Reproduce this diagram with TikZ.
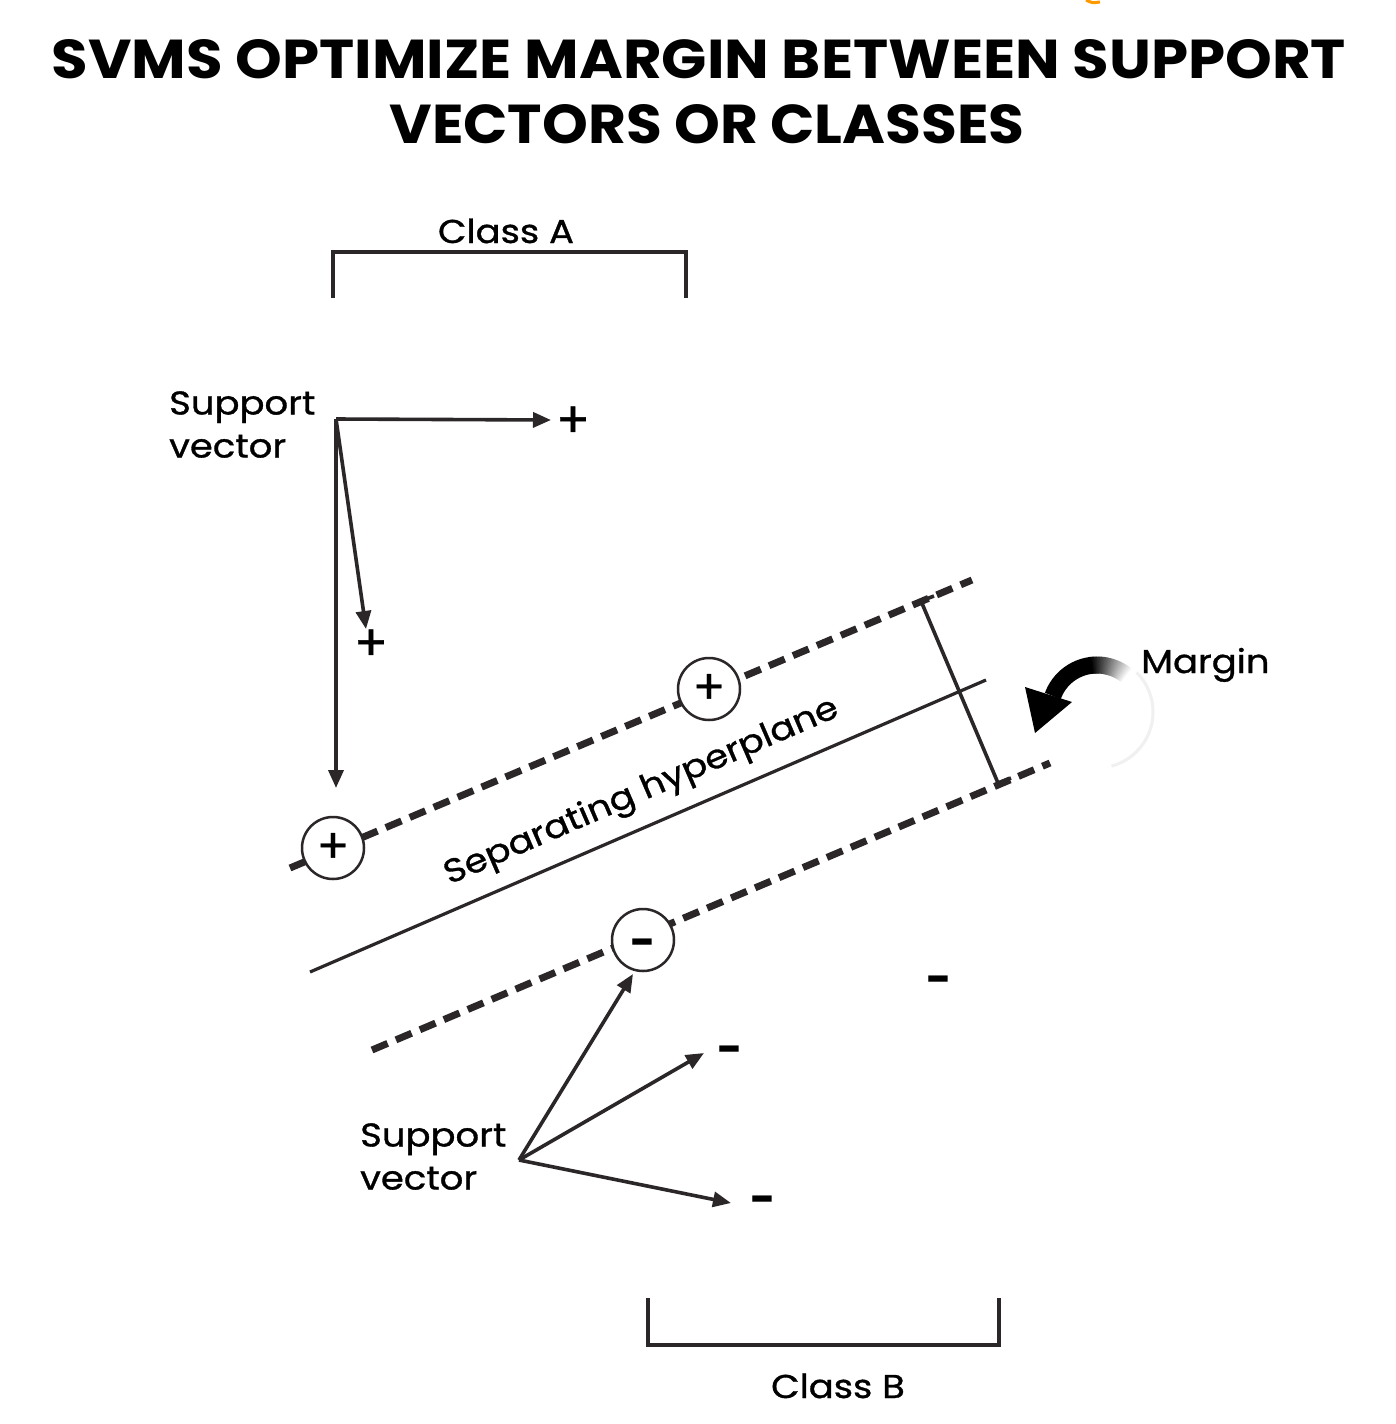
\documentclass[tikz,border=0pt]{standalone}
\usepackage{fontspec}
\setmainfont{Poppins}
\newfontfamily\lblfont[FakeStretch=1.12,FakeBold=1]{Poppins}
\newfontfamily\pmfont[FakeBold=0.8]{Poppins}
\usetikzlibrary{arrows.meta,calc}
\definecolor{ink}{HTML}{2B2728}
\begin{document}
\begin{tikzpicture}[x=1pt,y=-1pt,
  ln/.style={draw=ink,line width=3.6pt},
  dsh/.style={draw=ink,line width=7pt,dash pattern=on 17pt off 9pt},
  vec/.style={draw=ink,line width=3.6pt,-{Triangle[length=18pt,width=15pt]}},
  lbl/.style={font=\lblfont\fontsize{33}{43}\selectfont, align=left, inner sep=0pt, text=black},
  sgn/.style={font=\pmfont\fontsize{50}{50}\selectfont, inner sep=0pt, text=black},
  msg/.style={font=\fontsize{44}{44}\selectfont\bfseries, inner sep=0pt, text=black, text height=34pt, text depth=0pt},
  pt/.style={circle, draw=ink, line width=2.5pt, minimum size=62pt, inner sep=0pt, fill=white, font=\pmfont\fontsize{48}{48}\selectfont},
  ptm/.style={pt, font=\fontsize{44}{44}\selectfont\bfseries, text height=34pt, text depth=0pt},
  ttl/.style={font=\fontsize{56}{64}\selectfont\bfseries, inner sep=0pt, text=black}
]
\useasboundingbox[fill=white] (0,0) rectangle (1396,1424);

% tiny orange mark at top
\draw[orange!80!yellow, line width=3pt] (1086,0) .. controls (1092,3) .. (1100,2);

% title
\node[ttl, anchor=south] (t1) at (699,79) {\resizebox{1294pt}{39pt}{SVMS OPTIMIZE MARGIN BETWEEN SUPPORT}};
\node[ttl, anchor=south] (t2) at (707,144) {\resizebox{635pt}{39pt}{VECTORS OR CLASSES}};

% class brackets
\node[lbl, anchor=base] (ca) at (506,243) {Class A};
\coordinate (ca1) at (333,298); \coordinate (ca2) at (333,252);
\coordinate (ca3) at (686,252); \coordinate (ca4) at (686,298);
\draw[ln] (ca1) -- (ca2) -- (ca3) -- (ca4);

\node[lbl, anchor=base] (cb) at (838,1398) {Class B};
\coordinate (cb1) at (648,1298); \coordinate (cb2) at (648,1345);
\coordinate (cb3) at (999,1345); \coordinate (cb4) at (999,1298);
\draw[ln] (cb1) -- (cb2) -- (cb3) -- (cb4);

% hyperplane and margins
\coordinate (u1) at (290,868); \coordinate (u2) at (972,580);
\coordinate (h1) at (310,972); \coordinate (h2) at (986,680);
\coordinate (l1) at (372,1050); \coordinate (l2) at (1050,763);
\draw[dsh] (u1) -- (u2);
\draw[dsh] (l1) -- (l2);
\draw[draw=ink,line width=3.2pt] (h1) -- (h2);
\node[lbl, anchor=base, rotate=23.4] (sh) at (645,800) {Separating hyperplane};

% margin bar
\coordinate (m0) at (934,596); \coordinate (m1) at (921,601);
\coordinate (m2) at (998,783); \coordinate (m3) at (1011,778);
\draw[ln, line join=miter] (m0) -- (m1) -- (m2) -- (m3);

% support vector circles
\node[pt] (c1) at (333,848) {+};
\node[ptm] (c3) at (643,940) {-};
\node[pt] (c2) at (709,689) {+};

% upper support vectors
\coordinate (sa) at (336,419);
\node[lbl, anchor=north west] (sal) at (169,391) {Support\\vector};
\node[sgn] (pa1) at (573,422) {+};
\node[sgn] (pa2) at (371,645) {+};
\coordinate (ta1) at (551,420);
\coordinate (ta2) at (366,629);
\coordinate (ta3) at (336,788);
\draw[vec] (sa) -- (ta1);
\draw[vec] (sa) -- (ta2);
\draw[vec] (sa) -- (ta3);

% lower support vectors
\coordinate (sb) at (519,1160);
\node[lbl, anchor=north west] (sbl) at (360,1123) {Support\\vector};
\node[msg] (mb1) at (730,1047) {-};
\node[msg] (mb2) at (763,1197) {-};
\node[msg] (mb3) at (939,977) {-};
\coordinate (tb1) at (633,974);
\coordinate (tb2) at (704,1053);
\coordinate (tb3) at (731,1203);
\draw[vec] (sb) -- (tb1);
\draw[vec] (sb) -- (tb2);
\draw[vec] (sb) -- (tb3);

% margin label and curved arrow
\node[lbl, anchor=base west] (mg) at (1141,673) {Margin};
\coordinate (ctr) at (1097,712);
\draw[black!6, line width=3pt] ([shift={(-45:56)}]ctr) arc[start angle=-45, end angle=75, radius=56];
\foreach \i in {0,...,29}{
  \pgfmathsetmacro{\aa}{-50-1.6*\i}
  \pgfmathsetmacro{\bb}{-50-1.6*\i-2.4}
  \pgfmathsetmacro{\cc}{min(100,3.5*\i)}
  \draw[black!\cc, line width=17pt] ([shift={(\aa:47)}]ctr) arc[start angle=\aa, end angle=\bb, radius=47];
}
\draw[black, line width=17pt] ([shift={(-97:47)}]ctr) arc[start angle=-97, end angle=-160, radius=47];
\coordinate (ah1) at (1025,687); \coordinate (ah2) at (1035,733); \coordinate (ah3) at (1072,702);
\fill[black] (ah1) -- (ah2) -- (ah3) -- cycle;
\end{tikzpicture}
\end{document}
